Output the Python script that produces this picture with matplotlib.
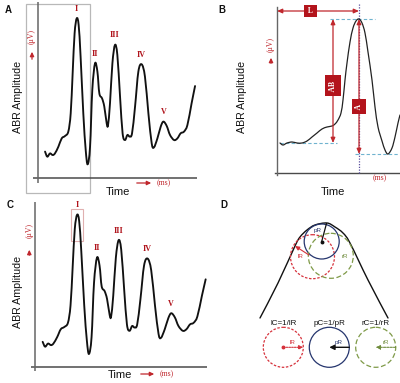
import matplotlib
matplotlib.use("Agg")
import matplotlib.pyplot as plt
from matplotlib.patches import Rectangle, Circle, PathPatch
from matplotlib.path import Path

# ---------------- data ----------------
# ABR waveform (panels A and C), time in ms, amplitude in uV
abr_time = [0.47, 0.62, 0.80, 0.98, 1.13, 1.36, 1.58, 1.80, 2.02, 2.18, 2.31, 2.44, 2.58,
            2.71, 2.84, 3.02, 3.18, 3.31, 3.47, 3.62, 3.80, 3.96, 4.09, 4.27, 4.42, 4.58,
            4.67, 4.80, 4.96, 5.13, 5.29, 5.47, 5.64, 5.80, 5.96, 6.11, 6.27, 6.47, 6.69,
            6.91, 7.13, 7.36, 7.58, 7.73, 7.96, 8.18, 8.36, 8.58, 8.80, 9.07, 9.29, 9.51,
            9.73, 9.96, 10.24, 10.47]
abr_amp = [1.76, 1.42, 1.64, 1.53, 1.64, 2.09, 2.64, 2.80, 3.09, 4.31, 6.98, 9.64, 10.64,
           10.20, 8.09, 4.31, 1.87, 0.91, 2.09, 5.87, 7.64, 7.09, 5.64, 5.31, 4.76, 3.64,
           3.53, 4.98, 7.64, 8.87, 8.20, 5.42, 2.98, 2.53, 2.87, 2.76, 2.98, 4.76, 7.09,
           7.58, 6.76, 4.31, 2.31, 2.04, 2.64, 3.42, 3.76, 3.47, 2.87, 2.53, 2.64, 2.98,
           3.09, 3.53, 4.98, 6.13]
peak_labels = ["I", "II", "III", "IV", "V"]
peak_time = [2.58, 3.80, 5.13, 6.91, 8.36]
peak_amp = [10.64, 7.64, 8.87, 7.58, 3.76]

# Panel B: single wave (zoom on wave I)
b_time = [0.3, 0.6, 1.0, 1.5, 2.0, 2.5, 3.0, 3.5, 4.0, 4.5, 5.0, 5.5, 5.8, 6.1, 6.4, 6.6,
          6.8, 7.0, 7.3, 7.6, 7.9, 8.2, 8.5, 8.8, 9.1, 9.5, 9.8, 10.1, 10.5, 10.8, 11.1,
          11.5, 11.8, 12.1, 12.3]
b_amp = [3.0, 2.8, 3.0, 3.1, 3.0, 3.0, 3.2, 3.6, 4.0, 4.4, 4.6, 4.7, 4.9, 5.3, 6.0, 7.3,
         9.3, 11.0, 13.1, 14.5, 15.2, 15.4, 15.0, 14.0, 12.1, 9.3, 6.6, 4.6, 3.2, 2.3, 1.9,
         2.5, 3.6, 5.0, 5.8]
b_peak = (8.2, 15.4)
b_baseline = 3.0
b_trough = 1.9

# Panel D: curvature diagram
d_curve_x = [260, 278, 295, 300, 307, 315, 327, 335, 343, 350, 368, 388]
d_curve_y = [318, 283, 246, 237, 230, 225, 223, 227, 233, 243, 280, 318]
d_names = ["l", "p", "r"]
d_top_centers = [(312.5, 256.7), (321.7, 241.5), (330.8, 255.8)]
d_top_radii = [22, 17.5, 22.5]
d_bot_centers = [(283.3, 347.3), (329.3, 347.3), (375.7, 347.3)]
d_bot_radius = 20
d_formulas = ["lC=1/lR", "pC=1/pR", "rC=1/rR"]

# ---------------- style ----------------
RED = "#c0272d"
DARKRED = "#b0141c"
AXC = "#4a4a4a"
SANS = ["Liberation Sans", "DejaVu Sans"]
SERIF = ["Liberation Serif", "DejaVu Serif"]
W, H = 400, 383

fig = plt.figure(figsize=(4.0, 3.83), dpi=100)


def px_axes(x0, y0, x1, y1, z=1):
    ax = fig.add_axes([x0 / W, 1 - y1 / H, (x1 - x0) / W, (y1 - y0) / H], zorder=z)
    ax.set_axis_off()
    ax.patch.set_alpha(0)
    return ax


def smooth_line(ax, xs, ys, **kw):
    """Draw a smooth curve through the data points (Catmull-Rom rendered as Bezier)."""
    pts = list(zip(xs, ys))
    verts = [pts[0]]
    codes = [Path.MOVETO]
    n = len(pts)
    for i in range(n - 1):
        p0 = pts[i - 1] if i > 0 else pts[i]
        p1 = pts[i]
        p2 = pts[i + 1]
        p3 = pts[i + 2] if i + 2 < n else pts[i + 1]
        c1 = (p1[0] + (p2[0] - p0[0]) / 6, p1[1] + (p2[1] - p0[1]) / 6)
        c2 = (p2[0] - (p3[0] - p1[0]) / 6, p2[1] - (p3[1] - p1[1]) / 6)
        verts += [c1, c2, p2]
        codes += [Path.CURVE4] * 3
    patch = PathPatch(Path(verts, codes), fill=False, capstyle="round",
                      joinstyle="round", **kw)
    ax.add_patch(patch)
    return patch


# overlay in pixel coordinates
ov = px_axes(0, 0, W, H, z=0)
ov.set_xlim(0, W)
ov.set_ylim(H, 0)


def rot_label(x, y, s, size=7.7):
    ov.text(x, y, s, rotation=90, ha="center", va="center", fontsize=size,
            family=SANS, color="#111")


def uv_label(x, y_text, y0, y1):
    ov.text(x, y_text, "(μV)", rotation=90, ha="center", va="center", fontsize=5.6,
            family=SERIF, color=RED)
    ov.annotate("", xy=(x, y1), xytext=(x, y0),
                arrowprops=dict(arrowstyle="-|>,head_length=0.25,head_width=0.12",
                                color=RED, lw=0.9))


def ms_label(x0, x1, y):
    ov.annotate("", xy=(x1, y), xytext=(x0, y),
                arrowprops=dict(arrowstyle="-|>,head_length=0.25,head_width=0.12",
                                color=RED, lw=0.9))
    ov.text(x1 + 3, y, "(ms)", ha="left", va="center", fontsize=5.6, family=SERIF,
            color=RED)


def panel_letter(x, y, s):
    ov.text(x, y, s, ha="center", va="center", fontsize=7, fontweight="bold",
            family=SANS, color="#111")


# ---------------- Panel A ----------------
ov.add_patch(Rectangle((25.7, 4), 64.3, 189, fill=False, ec="#b8b8b8", lw=0.9))
axA = px_axes(33, 2, 197, 183, z=2)
axA.set_xlim(-5 / 15, 159 / 15)
axA.set_ylim(-5 / 15, 176 / 15)
axA.axhline(0, color=AXC, lw=1.1)
axA.axvline(0, color="#666", lw=1.1)
smooth_line(axA, abr_time, abr_amp, ec="#111", lw=1.35)
for lab, t, a in zip(peak_labels, peak_time, peak_amp):
    axA.annotate(lab, (t, a), xytext=(0, 4), textcoords="offset points", ha="center",
                 va="bottom", fontsize=5.8, fontweight="bold", family=SERIF, color=DARKRED)
panel_letter(8, 10, "A")
rot_label(18, 97, "ABR Amplitude")
uv_label(32, 37, 62, 49)
ov.text(118, 192, "Time", ha="center", va="center", fontsize=8, family=SANS, color="#111")
ms_label(134, 154, 183)

# ---------------- Panel C ----------------
axC = px_axes(31, 202, 207, 371, z=2)
axC.set_xlim(-4 / 16.3, 172 / 16.3)
axC.set_ylim(-4 / 14.3, 165 / 14.3)
axC.axhline(0, color=AXC, lw=1.1)
axC.axvline(0, color="#666", lw=1.1)
smooth_line(axC, abr_time, abr_amp, ec="#111", lw=1.35)
for lab, t, a in zip(peak_labels, peak_time, peak_amp):
    axC.annotate(lab, (t, a), xytext=(0, 4), textcoords="offset points", ha="center",
                 va="bottom", fontsize=5.8, fontweight="bold", family=SERIF, color=DARKRED)
ov.add_patch(Rectangle((71, 209.3), 11.7, 31.7, fill=False, ec="#e0b0b0", lw=0.8, zorder=3))
panel_letter(10, 205, "C")
rot_label(18, 292, "ABR Amplitude")
uv_label(29.3, 230, 258, 247)
ov.text(120, 375, "Time", ha="center", va="center", fontsize=8, family=SANS, color="#111")
ms_label(138, 157, 374)

# ---------------- Panel B ----------------
axB = px_axes(275, 3, 400, 176, z=2)
axB.set_xlim(-0.2, 12.3)
axB.set_ylim(-0.3, 17.0)
axB.plot([-0.2, 12.3], [0, 0], color=AXC, lw=1.0, clip_on=False)
axB.plot([0, 0], [-0.2, 16.6], color="#666", lw=1.0, clip_on=False)
smooth_line(axB, b_time, b_amp, ec="#222", lw=0.9, zorder=3)
DASH = "#6fb3cf"
axB.plot([5.3, 9.8], [b_peak[1], b_peak[1]], ls=(0, (3, 2)), color=DASH, lw=0.8)
axB.plot([0.3, 6.0], [b_baseline, b_baseline], ls=(0, (3, 2)), color=DASH, lw=0.8)
axB.plot([7.8, 12.2], [b_trough, b_trough], ls=(0, (3, 2)), color=DASH, lw=0.8)
axB.plot([b_peak[0], b_peak[0]], [16.9, 0], ls=(0, (1, 1.2)), color="#5a4f9e", lw=0.9)
arr = dict(arrowstyle="<|-|>,head_length=0.3,head_width=0.13", color=RED, lw=0.9,
           shrinkA=0, shrinkB=0)
axB.annotate("", xy=(b_peak[0], 16.2), xytext=(0, 16.2), arrowprops=arr)
axB.annotate("", xy=(5.6, b_peak[1]), xytext=(5.6, b_baseline), arrowprops=arr)
axB.annotate("", xy=(b_peak[0], b_peak[1]), xytext=(b_peak[0], b_trough), arrowprops=arr)
axB.text(3.35, 16.2, " L ", ha="center", va="center", fontsize=5.5, fontweight="bold",
         family=SERIF, color="white",
         bbox=dict(boxstyle="square,pad=0.3", fc="#b3141c", ec="none"), zorder=5)
axB.text(5.6, 8.75, " AB ", rotation=90, ha="center", va="center", fontsize=5.5,
         fontweight="bold", family=SERIF, color="white",
         bbox=dict(boxstyle="square,pad=0.5", fc="#b3141c", ec="none"), zorder=5)
axB.text(b_peak[0], 6.65, " A ", rotation=90, ha="center", va="center", fontsize=5.5,
         fontweight="bold", family=SERIF, color="white",
         bbox=dict(boxstyle="square,pad=0.45", fc="#b3141c", ec="none"), zorder=5)
panel_letter(222, 10, "B")
rot_label(242, 97, "ABR Amplitude")
uv_label(271, 45, 66, 55)
ov.text(333, 192, "Time", ha="center", va="center", fontsize=8, family=SANS, color="#111")
ov.text(380, 178, "(ms)", ha="center", va="center", fontsize=5.6, family=SERIF, color=RED)

# ---------------- Panel D ----------------
axD = px_axes(200, 195, 400, 383, z=2)
axD.set_xlim(200, 400)
axD.set_ylim(383, 195)
panel_letter(224, 205, "D")
smooth_line(axD, d_curve_x, d_curve_y, ec="#111", lw=1.0)
styles = {"l": dict(ec="#d6323c", ls=(0, (2, 1.3))),
          "p": dict(ec="#26366e", ls="-"),
          "r": dict(ec="#7f9a48", ls=(0, (4, 2)))}
txtc = {"l": "#d6323c", "p": "#26366e", "r": "#6f8c3c"}
for n, c, r in zip(d_names, d_top_centers, d_top_radii):
    axD.add_patch(Circle(c, r, fill=False, lw=0.9, **styles[n]))
# top radii
cp = d_top_centers[1]
axD.annotate("", xy=(326.5, 223.5), xytext=cp,
             arrowprops=dict(arrowstyle="-", color="#111", lw=0.9, shrinkA=0, shrinkB=0))
axD.plot([cp[0]], [cp[1]], "o", ms=1.8, color="#111")
axD.text(318, 230.5, "pR", fontsize=4.5, ha="center", va="center", family=SANS,
         color=txtc["p"])
axD.annotate("", xy=(295, 246), xytext=(309, 255),
             arrowprops=dict(arrowstyle="-|>,head_length=0.25,head_width=0.12",
                             color=txtc["l"], lw=0.8, shrinkA=0, shrinkB=0))
axD.text(300.5, 257, "lR", fontsize=4.5, ha="center", va="center", family=SANS,
         color=txtc["l"])
axD.text(344.5, 256, "rR", fontsize=4.5, ha="center", va="center", family=SANS,
         color=txtc["r"])
# bottom circles
for n, c, f in zip(d_names, d_bot_centers, d_formulas):
    axD.add_patch(Circle(c, d_bot_radius, fill=False, lw=0.9, **styles[n]))
    axD.text(c[0], 323.3, f, ha="center", va="center", fontsize=5.8, family=SANS,
             color="#111")
cl = d_bot_centers[0]
axD.annotate("", xy=(cl[0] + d_bot_radius, cl[1]), xytext=cl,
             arrowprops=dict(arrowstyle="-|>,head_length=0.25,head_width=0.12",
                             color=txtc["l"], lw=0.8, ls=(0, (1.5, 1)), shrinkA=0, shrinkB=0))
axD.plot([cl[0]], [cl[1]], "o", ms=1.8, color=txtc["l"])
axD.text(cl[0] + 9, cl[1] - 4.5, "lR", fontsize=4.5, ha="center", va="center",
         family=SANS, color=txtc["l"])
cpb = d_bot_centers[1]
axD.annotate("", xy=cpb, xytext=(cpb[0] + d_bot_radius, cpb[1]),
             arrowprops=dict(arrowstyle="-|>,head_length=0.3,head_width=0.15",
                             color="#111", lw=1.0, shrinkA=0, shrinkB=0))
axD.text(cpb[0] + 9, cpb[1] - 4.5, "pR", fontsize=4.5, ha="center", va="center",
         family=SANS, color=txtc["p"])
cr = d_bot_centers[2]
axD.annotate("", xy=cr, xytext=(cr[0] + d_bot_radius, cr[1]),
             arrowprops=dict(arrowstyle="-|>,head_length=0.25,head_width=0.12",
                             color=txtc["r"], lw=0.8, ls=(0, (2, 1)), shrinkA=0, shrinkB=0))
axD.text(cr[0] + 10, cr[1] - 4.5, "rR", fontsize=4.5, ha="center", va="center",
         family=SANS, color=txtc["r"])

fig.savefig("out.png", dpi=100)
